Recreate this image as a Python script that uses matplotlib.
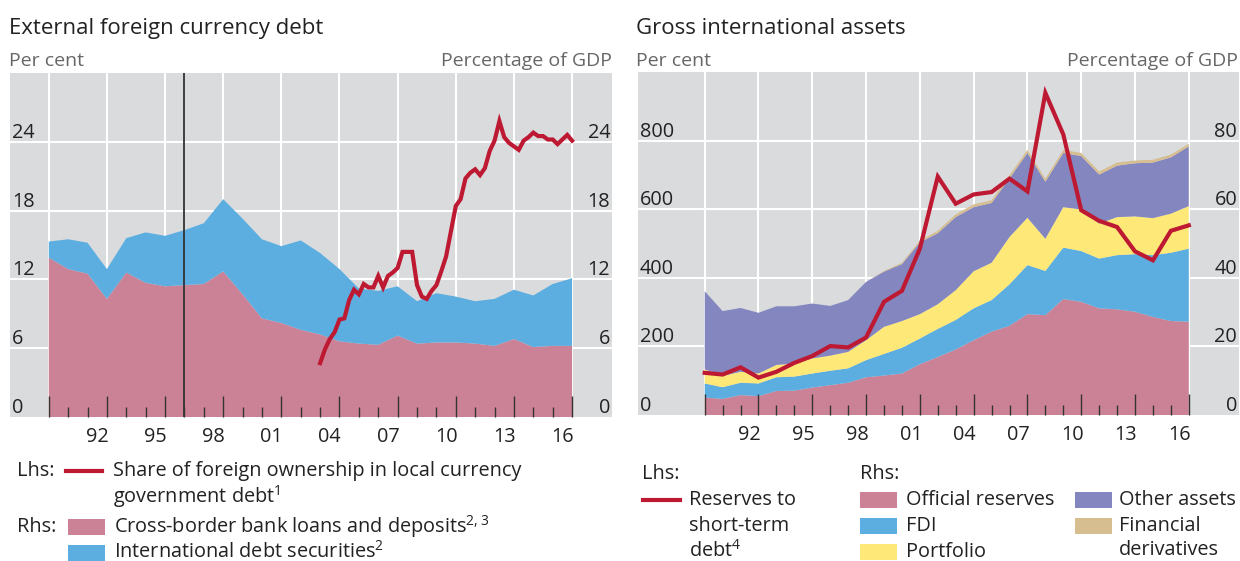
import matplotlib
matplotlib.use('Agg')
import matplotlib.pyplot as plt
import matplotlib.transforms as mtransforms
from matplotlib.patches import Rectangle
from matplotlib.lines import Line2D
import numpy as np

plt.rcParams['font.family'] = ['Open Sans', 'DejaVu Sans']
plt.rcParams['mathtext.fontset'] = 'custom'
plt.rcParams['mathtext.rm'] = 'Open Sans'
plt.rcParams['mathtext.default'] = 'regular'

# ---- data ----
years = list(range(1990, 2018))

# left panel, percentage of GDP (rhs)
bank_loans = [13.9, 12.9, 12.5, 10.3, 12.6, 11.7, 11.4, 11.5, 11.6, 12.7, 10.7, 8.6, 8.2, 7.6,
              7.2, 6.6, 6.4, 6.3, 7.1, 6.4, 6.5, 6.5, 6.4, 6.2, 6.8, 6.1, 6.2, 6.2]
debt_securities = [1.4, 2.6, 2.7, 2.6, 3.0, 4.4, 4.4, 4.8, 5.3, 6.3, 6.6, 6.9, 6.7, 7.8,
                   7.1, 6.3, 4.8, 4.7, 4.3, 3.7, 4.3, 4.0, 3.7, 4.1, 4.3, 4.5, 5.4, 5.9]

# left panel, per cent (lhs), quarterly from 2004 Q1
foreign_share_start = 2004
foreign_share = [4.7, 5.9, 6.8, 7.4, 8.5, 8.6, 10.2, 11.1, 10.7, 11.6, 11.3, 11.3, 12.3, 11.3,
                 12.3, 12.6, 13.0, 14.4, 14.4, 14.4, 11.5, 10.5, 10.3, 11.0, 11.5, 12.7, 14.0,
                 16.2, 18.4, 19.0, 20.8, 21.3, 21.6, 21.1, 21.7, 23.2, 24.1, 25.8, 24.4, 23.9,
                 23.6, 23.3, 24.1, 24.4, 24.8, 24.5, 24.5, 24.2, 24.2, 23.8, 24.2, 24.6, 24.1]

# right panel, percentage of GDP (rhs)
official_reserves = [5.1, 4.7, 5.8, 5.5, 7.0, 7.1, 8.0, 8.7, 9.4, 11.0, 11.5, 12.1, 14.8, 16.9,
                     19.1, 21.8, 24.3, 26.0, 29.4, 29.1, 33.8, 33.0, 31.1, 30.8, 30.1, 28.6, 27.4, 27.2]
fdi = [4.1, 3.4, 3.6, 3.7, 4.0, 4.1, 4.1, 4.2, 4.2, 5.0, 6.3, 7.5, 7.5, 8.2,
       8.6, 9.3, 9.2, 12.1, 14.3, 12.9, 15.0, 14.8, 14.5, 15.8, 16.8, 18.0, 19.9, 21.3]
portfolio = [4.1, 3.3, 3.2, 2.9, 3.6, 3.8, 4.4, 4.4, 4.8, 5.8, 7.9, 7.8, 7.1, 7.2,
             8.7, 10.8, 10.9, 13.8, 13.8, 9.4, 11.8, 12.1, 10.2, 11.1, 11.0, 10.8, 11.4, 12.4]
other_assets = [22.8, 18.9, 18.6, 17.7, 17.1, 16.7, 16.0, 14.5, 15.1, 17.0, 16.1, 16.6, 20.9, 20.7,
                21.3, 18.7, 17.4, 17.1, 18.9, 16.6, 15.8, 15.6, 14.3, 15.0, 15.5, 16.2, 16.4, 17.4]
fin_derivatives = [0, 0, 0, 0, 0, 0, 0, 0, 0, 0, 0.2, 0.4, 0.6, 0.7,
                   0.8, 0.8, 0.8, 0.9, 0.9, 0.9, 0.9, 0.9, 0.9, 0.9, 0.8, 0.8, 0.8, 0.8]

# right panel, per cent (lhs)
reserves_to_std = [123, 118, 139, 109, 126, 152, 172, 201, 197, 226, 330, 362, 485, 695,
                   616, 643, 650, 689, 652, 939, 818, 597, 566, 548, 477, 451, 537, 553]

label_years = [1992, 1995, 1998, 2001, 2004, 2007, 2010, 2013, 2016]
left_yticks = [0, 6, 12, 18, 24]
right_lhs_ticks = [0, 200, 400, 600, 800]
right_rhs_ticks = [0, 20, 40, 60, 80]

# ---- style ----
BG = '#dadbdd'
PINK = '#cc8296'
BLUE = '#5caee0'
YELLOW = '#fee878'
PURPLE = '#8486c0'
TAN = '#d6be91'
RED = '#be1932'
DARK = '#222222'
GREY = '#666666'
FS = 14.3      # ticks and legend
FS_UNIT = 14   # "Per cent" / "Percentage of GDP"
FS_TITLE = 16

W, H = 1240, 561
fig = plt.figure(figsize=(W / 100, H / 100), dpi=100)


def fx(x):
    return x / W


def fy(y):
    return 1 - y / H


ax1 = fig.add_axes([fx(10), fy(417), (612 - 10) / W, (417 - 73) / H])
ax2 = fig.add_axes([fx(638), fy(415), (1239 - 638) / W, (415 - 72) / H])


def style(ax, xlim, ylim, grid_vals, left_labels, right_labels, right_scale):
    ax.set_facecolor(BG)
    for s in ax.spines.values():
        s.set_visible(False)
    ax.set_xlim(*xlim)
    ax.set_ylim(*ylim)
    ax.set_yticks([])
    majors = years[::3]
    minors = [y for y in years if y not in majors]
    ax.set_xticks(majors)
    ax.set_xticks(minors, minor=True)
    ax.tick_params(axis='x', which='major', direction='in', length=15, width=1.0,
                   color='#333333', labelbottom=False)
    ax.tick_params(axis='x', which='minor', direction='in', length=7, width=1.0,
                   color='#333333')
    for g in grid_vals:
        ax.axhline(g, color='white', lw=1.5, zorder=0.5)
    for m in majors:
        ax.axvline(m, color='white', lw=1.5, zorder=0.5)
    ytr = mtransforms.offset_copy(ax.get_yaxis_transform(), fig=fig, y=4, units='dots')
    for v in left_labels:
        ax.text(0.003, v, str(v), transform=ytr, ha='left', va='baseline',
                fontsize=FS, color=DARK)
    for v in right_labels:
        ax.text(0.997, v * right_scale, str(v), transform=ytr, ha='right', va='baseline',
                fontsize=FS, color=DARK)
    xtr = mtransforms.blended_transform_factory(ax.transData, ax.transAxes)
    for y in label_years:
        ax.text(y + 0.5, -0.058, '%02d' % (y % 100), transform=xtr, ha='center',
                va='center', fontsize=FS, color=DARK)


# left panel
style(ax1, (1988, 2019.06), (0, 30), [6, 12, 18, 24], left_yticks, left_yticks, 1)
ax1.stackplot(years, bank_loans, debt_securities, colors=[PINK, BLUE], lw=0)
ax1.axvline(1997, color='#333333', lw=1.3, zorder=3)
q = np.arange(len(foreign_share)) / 4 + foreign_share_start
ax1.plot(q, foreign_share, color=RED, lw=3, solid_joinstyle='miter', zorder=4)

# right panel (areas in percentage of GDP, drawn on the 0-1000 per cent scale)
style(ax2, (1986.28, 2019.8), (0, 1000), [200, 400, 600, 800], right_lhs_ticks,
      right_rhs_ticks, 10)
stack = np.array([official_reserves, fdi, portfolio, other_assets, fin_derivatives]) * 10
ax2.stackplot(years, stack, colors=[PINK, BLUE, YELLOW, PURPLE, TAN], lw=0)
ax2.plot(years, reserves_to_std, color=RED, lw=3, solid_joinstyle='miter', zorder=4)

# titles
fig.text(fx(9), fy(34), 'External foreign currency debt', fontsize=FS_TITLE, color=DARK,
         va='baseline')
fig.text(fx(9), fy(66), 'Per cent', fontsize=FS_UNIT, color=GREY, va='baseline')
fig.text(fx(612), fy(66), 'Percentage of GDP', fontsize=FS_UNIT, color=GREY, va='baseline',
         ha='right')
fig.text(fx(636), fy(34), 'Gross international assets', fontsize=FS_TITLE, color=DARK,
         va='baseline')
fig.text(fx(636), fy(66), 'Per cent', fontsize=FS_UNIT, color=GREY, va='baseline')
fig.text(fx(1238), fy(66), 'Percentage of GDP', fontsize=FS_UNIT, color=GREY, va='baseline',
         ha='right')


# legends
def leg_text(x, y, s):
    fig.text(fx(x), fy(y), s, fontsize=FS, color=DARK, va='center')


def leg_line(x0, x1, y):
    fig.add_artist(Line2D([fx(x0), fx(x1)], [fy(y), fy(y)], color=RED, lw=3,
                          transform=fig.transFigure))


def leg_patch(x, y, color):
    fig.add_artist(Rectangle((fx(x), fy(y + 8)), 37 / W, 16 / H, color=color,
                             transform=fig.transFigure, lw=0))


leg_text(17, 471, 'Lhs:')
leg_line(66, 102, 471)
leg_text(113, 471, 'Share of foreign ownership in local currency')
leg_text(113, 497, 'government debt$^{1}$')
leg_text(17, 527, 'Rhs:')
leg_patch(68, 527, PINK)
leg_text(114, 527, 'Cross-border bank loans and deposits$^{2,3}$')
leg_patch(68, 553, BLUE)
leg_text(114, 552, 'International debt securities$^{2}$')

leg_text(642, 474, 'Lhs:')
leg_line(643, 680, 500)
leg_text(689, 500, 'Reserves to')
leg_text(689, 526, 'short-term')
leg_text(689, 551, 'debt$^{4}$')
leg_text(860, 474, 'Rhs:')
leg_patch(860, 500, PINK)
leg_text(906, 500, 'Official reserves')
leg_patch(860, 526, BLUE)
leg_text(906, 526, 'FDI')
leg_patch(860, 552, YELLOW)
leg_text(906, 552, 'Portfolio')
leg_patch(1075, 500, PURPLE)
leg_text(1119, 500, 'Other assets')
leg_patch(1075, 526, TAN)
leg_text(1119, 526, 'Financial')
leg_text(1119, 550, 'derivatives')

fig.savefig('out.png', dpi=100)
